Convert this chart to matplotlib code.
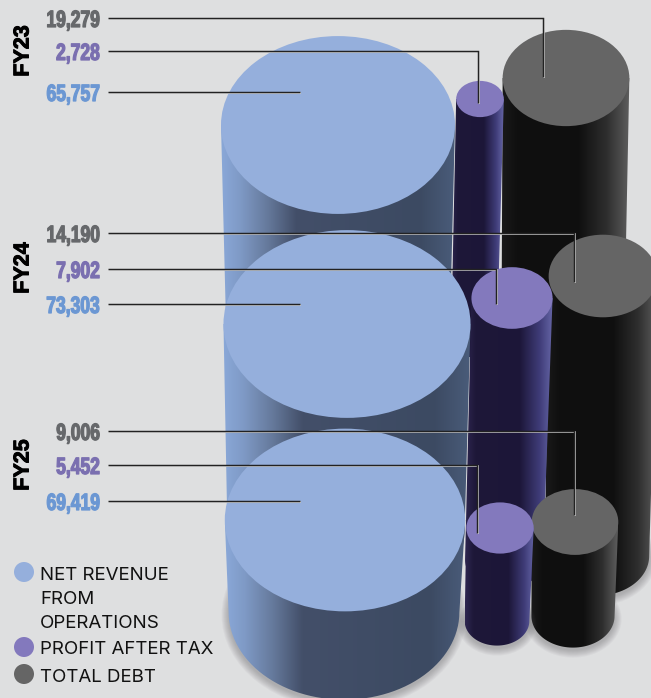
import numpy as np
import matplotlib
matplotlib.use('Agg')
import matplotlib.pyplot as plt
from matplotlib.colors import LinearSegmentedColormap
from matplotlib.patches import Circle, Ellipse, PathPatch
from matplotlib.patheffects import AbstractPathEffect, withStroke
from matplotlib.path import Path
from matplotlib.transforms import Affine2D

# figures in crore
years = ["FY23", "FY24", "FY25"]
net_revenue = [65757, 73303, 69419]
profit_after_tax = [2728, 7902, 5452]
total_debt = [19279, 14190, 9006]
legend_lines = ["NET REVENUE", "FROM", "OPERATIONS", "PROFIT AFTER TAX", "TOTAL DEBT"]

# layout, in pixels from the top left
W, H = 651, 698
SCALE = 0.9125      # disc width = SCALE * sqrt(value)
TILT = 0.76         # ellipse height / width
TAPER = 0.96        # bottom width / top width

rev_x = [338, 347, 345]
rev_y = [125, 324, 520]
rev_bottom_x = [338, 346, 344]
rev_bottom = [310, 530, 612]
pat_x = [480, 512, 500]
pat_y = [99, 298, 528]
pat_bottom_x = [474, 504, 497]
pat_bottom = [340, 560, 621]
debt_x = [566, 603, 575]
debt_y = [78, 276, 522]
debt_bottom_x = [562, 597, 573]
debt_bottom = [400, 556, 616]

rev_line_y = [92, 304, 501]
pat_line_y = [51, 269, 465]
debt_line_y = [18, 233, 431]
rev_line_end = 300
pat_line_x = [478, 496, 477]
pat_line_end = [103, 304, 533]
debt_line_x = [543, 574, 574]
debt_line_end = [77, 282, 515]
year_label_y = [51, 268, 465]
legend_text_y = [576, 600, 623, 650, 677]
legend_dot_y = [572, 647, 674]

BG = "#dedfe0"
TOP_REV, TOP_PAT, TOP_DEBT = "#95afdc", "#8379bd", "#656565"
TXT_REV, TXT_PAT, TXT_DEBT = "#6b97d3", "#7a6fb0", "#66686b"

cmap_rev = LinearSegmentedColormap.from_list("rev", [
    (0, "#8aa8d8"), (0.08, "#7f9ac6"), (0.2, "#65799b"), (0.32, "#434f69"),
    (0.85, "#3c4a62"), (1, "#4a5c7a")])
cmap_pat = LinearSegmentedColormap.from_list("pat", [
    (0, "#2e2650"), (0.12, "#1e1839"), (0.62, "#1c1638"), (0.85, "#3f3c78"),
    (1, "#6565a6")])
cmap_debt = LinearSegmentedColormap.from_list("debt", [
    (0, "#1a1a1a"), (0.12, "#101010"), (0.6, "#0f0f0f"), (0.82, "#2e2e2e"),
    (1, "#5e5e5e")])


class Squeeze(AbstractPathEffect):
    # narrows and fattens glyphs about a fixed display x, there is no condensed bold installed
    def __init__(self, anchor_x, factor, stroke):
        super().__init__()
        self.squeeze = Affine2D().translate(-anchor_x, 0).scale(factor, 1).translate(anchor_x, 0)
        self.stroke = stroke

    def draw_path(self, renderer, gc, tpath, affine, rgbFace=None):
        gc0 = renderer.new_gc()
        gc0.copy_properties(gc)
        gc0.set_foreground(rgbFace)
        gc0.set_linewidth(self.stroke)
        renderer.draw_path(gc0, tpath, affine + self.squeeze, rgbFace)
        gc0.restore()


fig = plt.figure(figsize=(W / 100, H / 100), dpi=100, facecolor=BG)
ax = fig.add_axes([0, 0, 1, 1])
ax.set_facecolor(BG)
ax.axis("off")


def soft_shadow(cx, cy, rx, ry, z):
    # stacked translucent ellipses make a cheap blur
    for grow in np.linspace(7, 0, 8):
        ax.add_patch(Ellipse((cx, cy + 3), 2 * (rx + grow), 2 * (ry + grow),
                             fc="#55555a", ec="none", alpha=0.05, zorder=z))


def cylinder(value, cx, cy, cx2, bottom, cmap, top_color, z, shadow=False):
    width = SCALE * np.sqrt(value)
    rx, ry = width / 2, width * TILT / 2
    rx2, ry2 = rx * TAPER, ry * TAPER

    if shadow:
        soft_shadow(cx2, bottom, rx2, ry2, z)

    # side wall: left edge, bottom arc, right edge, closed across the top disc
    t = np.linspace(np.pi, 0, 60)
    xs = np.r_[cx - rx, cx2 + rx2 * np.cos(t), cx + rx]
    ys = np.r_[cy, bottom + ry2 * np.sin(t), cy]
    wall = PathPatch(Path(np.column_stack([xs, ys])), fc="none", ec="none", zorder=z)
    ax.add_patch(wall)
    grad = np.linspace(0, 1, 256).reshape(1, -1)
    left = min(cx - rx, cx2 - rx2)
    right = max(cx + rx, cx2 + rx2)
    im = ax.imshow(grad, cmap=cmap, extent=(left, right, bottom + ry2, cy),
                   aspect="auto", interpolation="bilinear", zorder=z)
    im.set_clip_path(wall)

    ax.add_patch(Ellipse((cx, cy), 2 * rx, 2 * ry, fc=top_color, ec="none", zorder=z))


def leader(xs, ys):
    # dark rule with a pale edge so it still reads on the dark cylinders
    ax.plot(np.array(xs) + 0.7, np.array(ys) + 0.7, color="#d8d8d8", lw=1.2,
            solid_capstyle="butt", solid_joinstyle="miter", zorder=20)
    ax.plot(xs, ys, color="#222222", lw=1.05,
            solid_capstyle="butt", solid_joinstyle="miter", zorder=21)


for i in range(3):
    base = 3 * (i + 1)
    cylinder(total_debt[i], debt_x[i], debt_y[i], debt_bottom_x[i], debt_bottom[i],
             cmap_debt, TOP_DEBT, base, shadow=i > 0)
    cylinder(profit_after_tax[i], pat_x[i], pat_y[i], pat_bottom_x[i], pat_bottom[i],
             cmap_pat, TOP_PAT, base + 1, shadow=i == 2)
    cylinder(net_revenue[i], rev_x[i], rev_y[i], rev_bottom_x[i], rev_bottom[i],
             cmap_rev, TOP_REV, base + 2, shadow=i == 2)

    leader([108, debt_line_x[i], debt_line_x[i]], [debt_line_y[i], debt_line_y[i], debt_line_end[i]])
    leader([108, pat_line_x[i], pat_line_x[i]], [pat_line_y[i], pat_line_y[i], pat_line_end[i]])
    leader([108, rev_line_end], [rev_line_y[i], rev_line_y[i]])

    for val, y, col in [(total_debt[i], debt_line_y[i], TXT_DEBT),
                        (profit_after_tax[i], pat_line_y[i], TXT_PAT),
                        (net_revenue[i], rev_line_y[i], TXT_REV)]:
        ax.text(100, y, f"{val:,}", ha="right", va="center_baseline", color=col,
                fontsize=17, fontweight="bold", family="Liberation Sans", zorder=25,
                path_effects=[Squeeze(100, 0.74, 0.9)])

    ax.text(23, year_label_y[i], years[i], rotation=90, ha="center", va="center",
            color="black", fontsize=15.5, fontweight="bold",
            family="Liberation Sans", zorder=25,
            path_effects=[withStroke(linewidth=0.7, foreground="black")])

# legend
for y, col in zip(legend_dot_y, [TOP_REV, TOP_PAT, TOP_DEBT]):
    ax.add_patch(Circle((24, y), 10, fc=col, ec="none", zorder=25))
for y, line in zip(legend_text_y, legend_lines):
    ax.text(40, y, line, va="center", fontsize=13.5, color="#111111",
            family="Inter", zorder=25)

ax.set_xlim(0, W)
ax.set_ylim(H, 0)
fig.savefig("out.png", dpi=100, facecolor=BG)
